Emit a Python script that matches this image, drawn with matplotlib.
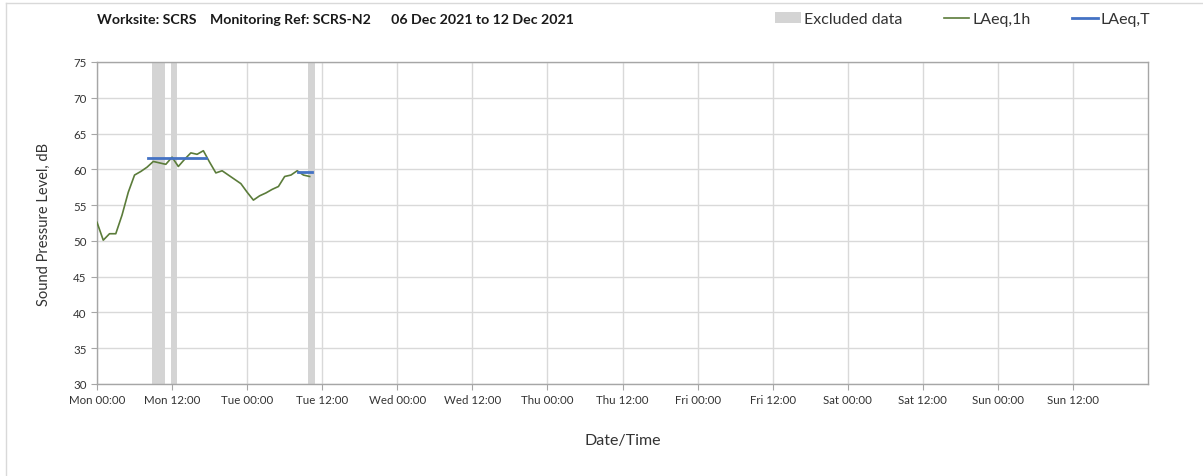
import matplotlib
matplotlib.use("Agg")
import numpy as np
from matplotlib import pyplot as plt
from matplotlib.patches import Patch
from matplotlib.lines import Line2D

plt.rcParams["font.family"] = ["Lato", "DejaVu Sans"]

# hourly LAeq,1h from Mon 06 Dec 00:00
hours = list(range(35))
laeq_1h = [52.6, 50.1, 51.0, 51.0, 53.6, 56.8, 59.2, 59.7, 60.3, 61.1,
           60.9, 60.7, 61.7, 60.4, 61.4, 62.3, 62.1, 62.6, 61.0, 59.5,
           59.8, 59.2, 58.6, 58.0, 56.8, 55.7, 56.3, 56.7, 57.2, 57.6,
           59.0, 59.2, 59.8, 59.2, 59.0]

# LAeq,T periods (start hour, end hour, level)
period_start = [8.1, 32.1]
period_end = [17.4, 34.3]
period_level = [61.6, 59.6]

# excluded data spans (hours)
excl_start = [8.8, 11.9, 33.8]
excl_end = [10.8, 12.8, 34.9]

tick_labels = ["Mon 00:00", "Mon 12:00", "Tue 00:00", "Tue 12:00", "Wed 00:00",
               "Wed 12:00", "Thu 00:00", "Thu 12:00", "Fri 00:00", "Fri 12:00",
               "Sat 00:00", "Sat 12:00", "Sun 00:00", "Sun 12:00"]

green = "#5b7c3a"
blue = "#4472c4"
band = "#d4d4d4"
axis_col = "#a6a6a6"

fig = plt.figure(figsize=(12.03, 4.77), dpi=100)
ax = fig.add_axes([97 / 1203, 1 - 385 / 477, (1148 - 97) / 1203, (385 - 63) / 477])

for s, e in zip(excl_start, excl_end):
    ax.axvspan(s, e, color=band, lw=0, zorder=1)

ax.plot(hours, laeq_1h, color=green, lw=1.2, zorder=3)
for s, e, v in zip(period_start, period_end, period_level):
    ax.plot([s, e], [v, v], color=blue, lw=2, zorder=4)

ax.set_xlim(0, 168)
ax.set_ylim(30, 75)
ax.set_xticks(np.arange(0, 168, 12))
ax.set_xticklabels(tick_labels)
ax.set_yticks(np.arange(30, 76, 5))
ax.grid(True, color="#d9d9d9", lw=1, zorder=0)
ax.set_axisbelow(True)
for sp in ax.spines.values():
    sp.set_color(axis_col)
    sp.set_linewidth(1)
ax.tick_params(axis="both", colors=axis_col, labelcolor="#333333",
               labelsize=8.3, length=4, width=0.8)

ax.set_xlabel("Date/Time", fontsize=11.5, color="#333333", labelpad=20)
ax.set_ylabel("Sound Pressure Level, dB", fontsize=10.5, color="#333333", labelpad=16)

fig.text(97 / 1203, 1 - 20 / 477, "Worksite: SCRS    Monitoring Ref: SCRS-N2      06 Dec 2021 to 12 Dec 2021",
         fontsize=10.2, fontweight="bold", color="#1a1a1a", va="center", ha="left")

handles = [Patch(color=band, lw=0),
           Line2D([], [], color=green, lw=1.2),
           Line2D([], [], color=blue, lw=2)]
fig.legend(handles, ["Excluded data", "LAeq,1h", "LAeq,T"], ncol=3,
           loc="center right", bbox_to_anchor=(1165 / 1203, 1 - 20 / 477),
           frameon=False, fontsize=11.5, handlelength=1.6, handletextpad=0.2,
           columnspacing=2.6, labelcolor="#333333")

# outer chart frame
fig.add_artist(Line2D([6 / 1203, 6 / 1203], [0, 1 - 4 / 477], color="#d9d9d9", lw=1,
                      transform=fig.transFigure))
fig.add_artist(Line2D([6 / 1203, 1], [1 - 4 / 477, 1 - 4 / 477], color="#d9d9d9", lw=1,
                      transform=fig.transFigure))

fig.savefig("out.png", dpi=100, facecolor="white")
